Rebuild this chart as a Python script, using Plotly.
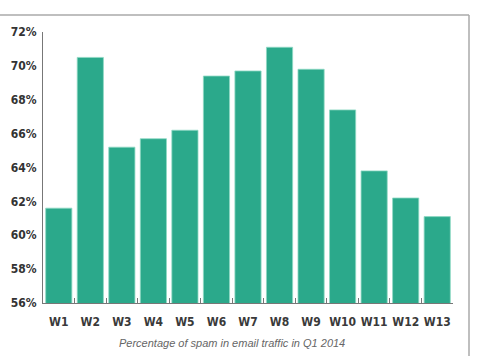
import plotly.graph_objects as go

weeks = ["W1", "W2", "W3", "W4", "W5", "W6", "W7", "W8", "W9", "W10", "W11", "W12", "W13"]
spam_pct = [61.6, 70.5, 65.2, 65.7, 66.2, 69.4, 69.7, 71.1, 69.8, 67.4, 63.8, 62.2, 61.1]
y_ticks = [56, 58, 60, 62, 64, 66, 68, 70, 72]
y_tick_text = [f"{v}%" for v in y_ticks]
caption = "Percentage of spam in email traffic in Q1 2014"

fig = go.Figure(go.Bar(
    x=weeks, y=spam_pct,
    marker=dict(color="#2BA98B", line=dict(color="#8FD9C4", width=0.8)),
))

W, H = 477, 356
L, R, T, B = 43, 24, 32, 53
pw, ph = W - L - R, H - T - B

ytf = dict(size=12, family="DejaVu Sans Condensed", color="#333333", weight="bold")
xtf = dict(size=12, family="DejaVu Sans Condensed", color="#3a3a3a", weight="bold")

fig.update_layout(
    width=W, height=H,
    margin=dict(l=L, r=R, t=T, b=B),
    paper_bgcolor="white", plot_bgcolor="white",
    bargap=0.17,
    showlegend=False,
    font=dict(family="DejaVu Sans Condensed", color="#333333"),
    xaxis=dict(
        showline=True, linecolor="#777777", linewidth=1.2,
        ticks="inside", tickson="boundaries", ticklen=5, tickcolor="#777777",
        tickfont=xtf, tickangle=0, ticklabelstandoff=7,
        showgrid=False, zeroline=False,
    ),
    yaxis=dict(
        range=[56, 72], tickmode="array", tickvals=y_ticks, ticktext=y_tick_text,
        showline=True, linecolor="#777777", linewidth=1.2,
        ticks="", showgrid=False, zeroline=False,
        tickfont=ytf, ticklabelstandoff=3,
    ),
    annotations=[dict(
        text=caption, xref="paper", yref="paper",
        x=(232 - L) / pw, y=-(343 - (H - B)) / ph, xanchor="center", yanchor="middle",
        showarrow=False,
        font=dict(family="Liberation Sans", size=11, color="#666666", style="italic"),
    )],
    shapes=[
        dict(type="line", xref="paper", yref="paper",
             x0=-L / pw, x1=(469 - L) / pw, y0=(H - B - 15) / ph, y1=(H - B - 15) / ph,
             line=dict(color="#AAAAAA", width=1.5)),
        dict(type="line", xref="paper", yref="paper",
             x0=(469 - L) / pw, x1=(469 - L) / pw, y0=(H - B - 15) / ph, y1=-B / ph,
             line=dict(color="#AAAAAA", width=1.5)),
    ],
)

fig.write_html("out.html")
